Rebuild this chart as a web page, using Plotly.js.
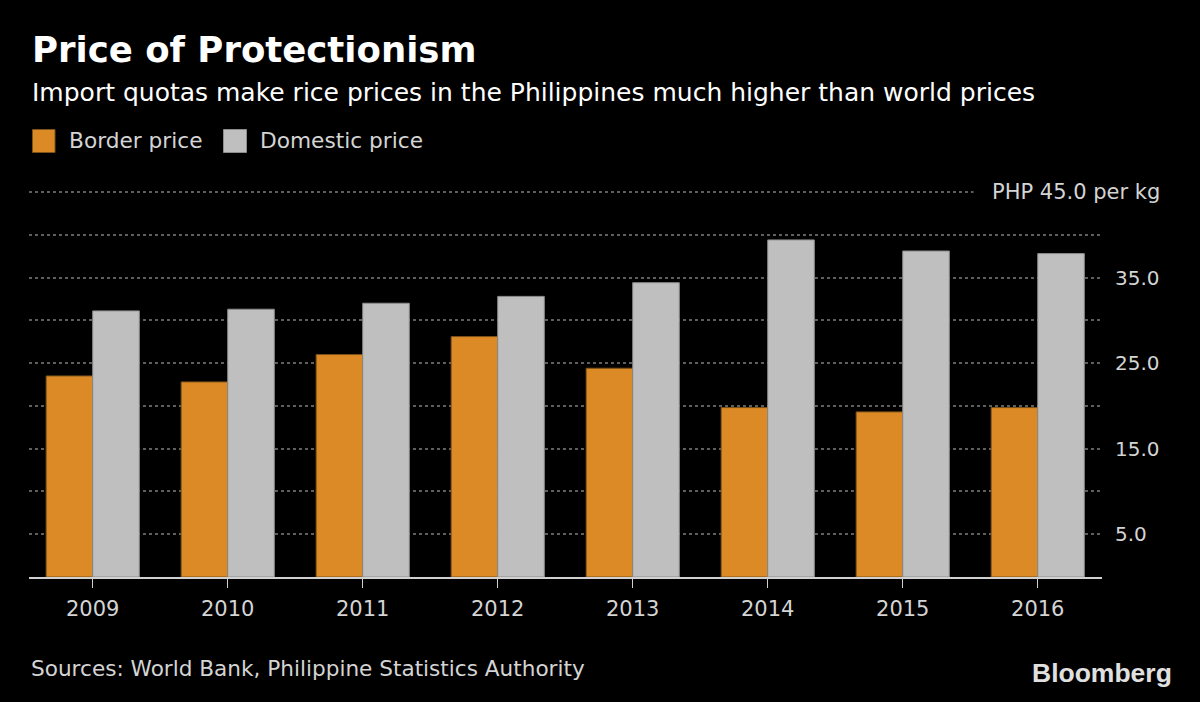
<!DOCTYPE html>
<html>
<head>
<meta charset="utf-8">
<script src="https://cdn.plot.ly/plotly-3.0.1.min.js"></script>
<style>
  html, body { margin: 0; padding: 0; background: #000; }
  #chart { width: 1200px; height: 702px; }
</style>
</head>
<body>
<div id="chart"></div>
<script>
// ---- data ----
const years = ['2009', '2010', '2011', '2012', '2013', '2014', '2015', '2016'];
const borderPrice = [23.5, 22.8, 26.0, 28.1, 24.4, 19.8, 19.3, 19.8];
const domesticPrice = [31.1, 31.3, 32.0, 32.8, 34.4, 39.4, 38.1, 37.8];
const seriesNames = ['Border price', 'Domestic price'];
const yTickVals = [0, 5, 10, 15, 20, 25, 30, 35, 40, 45];
const yTickText = ['', '5.0', '', '15.0', '', '25.0', '', '35.0', '', ''];
const yMax = 45;
const topLabel = 'PHP 45.0 per kg';
const titleText = 'Price of Protectionism';
const subtitleText = 'Import quotas make rice prices in the Philippines much higher than world prices';
const sourceText = 'Sources: World Bank, Philippine Statistics Authority';
const brandText = 'Bloomberg';

// ---- style ----
const FONT = 'DejaVu Sans';
const ORANGE = '#dc8a26';
const ORANGE_EDGE = '#7d5219';
const GREY = '#bfbfbf';
const GREY_EDGE = '#8c8c8c';
const TEXT = '#d4d4d4';

const M = { l: 29, r: 98, t: 190, b: 125 };
const W = 1200, H = 702;
const PW = W - M.l - M.r, PH = H - M.t - M.b;
const PX_PER_UNIT = 385 / yMax;          // 0 at y=577, 45 at y=192
const yTop = PH / PX_PER_UNIT;           // a touch above 45 so its gridline is drawn
const fx = px => (px - M.l) / PW;
const fy = py => (H - M.b - py) / PH;

const traces = [
  {
    type: 'bar', name: seriesNames[0], x: years, y: borderPrice,
    marker: { color: ORANGE, line: { color: ORANGE_EDGE, width: 1 } },
    hoverinfo: 'x+y+name'
  },
  {
    type: 'bar', name: seriesNames[1], x: years, y: domesticPrice,
    marker: { color: GREY, line: { color: GREY_EDGE, width: 1 } },
    hoverinfo: 'x+y+name'
  }
];

const annotations = [
  { text: '<b>' + titleText + '</b>', x: fx(30), y: fy(49.5), xanchor: 'left', yanchor: 'middle',
    font: { family: FONT, size: 35.5, color: '#ffffff' } },
  { text: subtitleText, x: fx(30), y: fy(93), xanchor: 'left', yanchor: 'middle',
    font: { family: FONT, size: 25, color: '#ffffff' } },
  { text: seriesNames[0], x: fx(67), y: fy(140.5), xanchor: 'left', yanchor: 'middle',
    font: { family: FONT, size: 21.7, color: TEXT } },
  { text: seriesNames[1], x: fx(258), y: fy(140.5), xanchor: 'left', yanchor: 'middle',
    font: { family: FONT, size: 21.7, color: TEXT } },
  { text: topLabel, xref: 'paper', yref: 'y', x: fx(1161 + 18), y: yMax, xanchor: 'right', yanchor: 'middle',
    bgcolor: '#000000', borderpad: 18,
    font: { family: FONT, size: 21, color: TEXT } },
  { text: sourceText, x: fx(29), y: fy(668.5), xanchor: 'left', yanchor: 'middle',
    font: { family: FONT, size: 21.6, color: TEXT } },
  { text: '<b>' + brandText + '</b>', x: fx(1174), y: fy(673), xanchor: 'right', yanchor: 'middle',
    font: { family: 'Liberation Sans', size: 26.5, color: '#e0e0e0' } }
].map(a => Object.assign({ xref: 'paper', yref: 'paper', showarrow: false }, a));

const shapes = [
  { type: 'rect', xref: 'paper', yref: 'paper', x0: fx(32.5), x1: fx(55), y0: fy(129.5), y1: fy(152.5),
    fillcolor: ORANGE, line: { color: ORANGE_EDGE, width: 1 } },
  { type: 'rect', xref: 'paper', yref: 'paper', x0: fx(223.5), x1: fx(246.5), y0: fy(129.5), y1: fy(152.5),
    fillcolor: GREY, line: { color: GREY_EDGE, width: 1 } }
];

const layout = {
  width: W, height: H,
  margin: M,
  paper_bgcolor: '#000000',
  plot_bgcolor: '#000000',
  showlegend: false,
  barmode: 'group',
  bargap: 0.31,
  bargroupgap: 0,
  font: { family: FONT, color: TEXT },
  xaxis: {
    type: 'category',
    range: [-0.472, 7.476],
    showgrid: false,
    zeroline: false,
    showline: true,
    linecolor: '#d0d0d0',
    linewidth: 2,
    ticks: 'outside',
    ticklen: 9,
    tickwidth: 1.5,
    tickcolor: '#d0d0d0',
    ticklabelstandoff: 3,
    tickfont: { family: FONT, size: 21, color: TEXT },
    fixedrange: true
  },
  yaxis: {
    side: 'right',
    range: [0, yTop],
    tickmode: 'array',
    tickvals: yTickVals,
    ticktext: yTickText,
    showgrid: true,
    gridcolor: '#5e5e5e',
    gridwidth: 2,
    griddash: 'dot',
    zeroline: false,
    showline: false,
    ticks: '',
    ticklabelstandoff: 12,
    tickfont: { family: FONT, size: 20, color: TEXT },
    fixedrange: true
  },
  annotations: annotations,
  shapes: shapes
};

Plotly.newPlot('chart', traces, layout, { displayModeBar: false, staticPlot: true });
</script>
</body>
</html>
